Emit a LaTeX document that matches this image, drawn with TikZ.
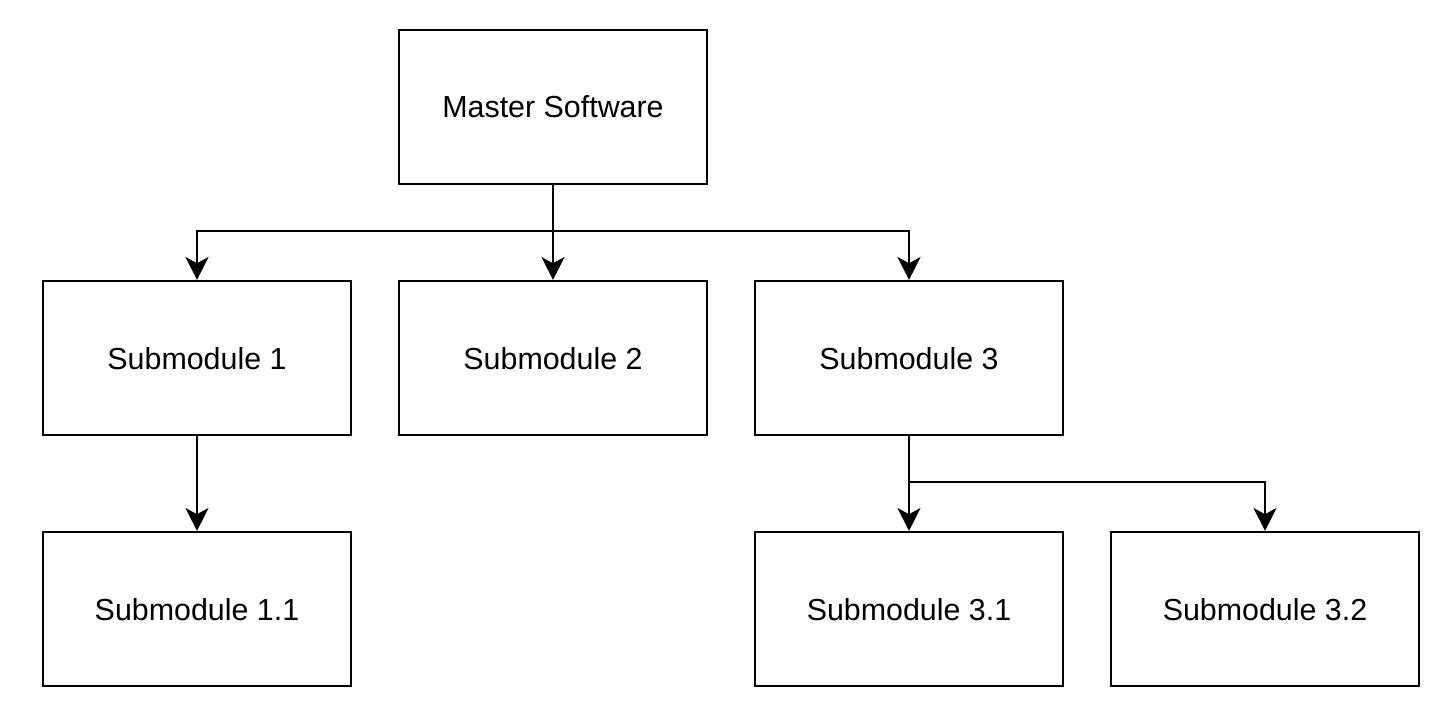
\documentclass[tikz,border=0pt]{standalone}
\usepackage{fontspec}
\setmainfont{Liberation Sans}
\usetikzlibrary{arrows.meta, positioning}

\begin{document}
\begin{tikzpicture}[
    module/.style={draw, line width=1.2pt, minimum width=6.16cm, minimum height=3.08cm,
        font=\fontsize{17.3}{20}\selectfont, text depth=0pt},
    link/.style={line width=1.6pt, -{Stealth[length=13pt, width=13pt, inset=3.5pt]}},
    trunk/.style={line width=1.6pt}
]
    \useasboundingbox (0,0) rectangle (28.96,-14.56);

    % top level
    \node[module] (master) at (11.06,-2.14) {Master Software};

    % second level
    \node[module] (sub1) at (3.94,-7.16) {Submodule 1};
    \node[module] (sub2) at (11.06,-7.16) {Submodule 2};
    \node[module] (sub3) at (18.18,-7.16) {Submodule 3};

    % third level
    \node[module] (sub11) at (3.94,-12.18) {Submodule 1.1};
    \node[module] (sub31) at (18.18,-12.18) {Submodule 3.1};
    \node[module] (sub32) at (25.30,-12.18) {Submodule 3.2};

    % junctions
    \coordinate (mbus) at (11.06,-4.62);
    \coordinate (sbus) at (18.18,-9.64);

    \draw[trunk] (master.south) -- (mbus);
    \draw[link] (mbus) -| (sub1.north);
    \draw[link] (mbus) -- (sub2.north);
    \draw[link] (mbus) -| (sub3.north);

    \draw[link] (sub1.south) -- (sub11.north);

    \draw[trunk] (sub3.south) -- (sbus);
    \draw[link] (sbus) -- (sub31.north);
    \draw[link] (sbus) -| (sub32.north);
\end{tikzpicture}
\end{document}
